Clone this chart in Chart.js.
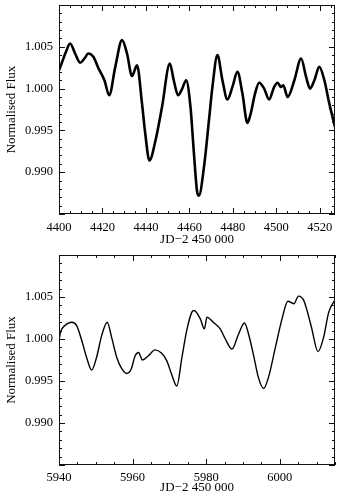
<!DOCTYPE html>
<html>
<head>
<meta charset="utf-8">
<script src="https://cdn.jsdelivr.net/npm/chart.js@4.4.0/dist/chart.umd.min.js"></script>
<style>
  html, body { margin: 0; padding: 0; background: #fff; }
  body { width: 338px; height: 496px; position: relative; overflow: hidden; }
  canvas { position: absolute; left: 0; }
  #c1 { top: 0; }
  #c2 { top: 248px; }
</style>
</head>
<body>
<canvas id="c1" width="338" height="248"></canvas>
<canvas id="c2" width="338" height="248"></canvas>
<script>
// ---- Data ----
const topTime = [4400, 4401.2, 4403.2, 4405.1, 4407.4, 4409.7, 4411.7, 4413.5, 4415.8, 4418.2,
  4420.9, 4423.1, 4425.9, 4429.0, 4431.3, 4433.6, 4435.9, 4438.2, 4439.7, 4441.6,
  4444.4, 4447.4, 4451.0, 4452.8, 4454.8, 4456.7, 4458.5, 4460.5, 4462.1, 4463.6,
  4464.4, 4466.7, 4469.0, 4470.6, 4472.9, 4475.2, 4477.5, 4479.8, 4482.1, 4484.4,
  4486.7, 4488.2, 4490.2, 4492.1, 4494.4, 4496.7, 4499.0, 4500.6, 4502.1, 4503.2,
  4505.2, 4508.3, 4511.4, 4513.7, 4515.5, 4517.5, 4519.8, 4522.1, 4524.4, 4527.0];
const topFlux = [1.0022, 1.0030, 1.0044, 1.0054, 1.0042, 1.0031, 1.0036, 1.0042, 1.0038, 1.0024,
  1.0010, 0.9992, 1.0026, 1.0058, 1.0042, 1.0015, 1.0028, 0.9982, 0.9946, 0.9914,
  0.9938, 0.9978, 1.0030, 1.0010, 0.9992, 1.0000, 1.0010, 0.9978, 0.9922, 0.9876,
  0.9872, 0.9906, 0.9962, 1.0002, 1.0040, 1.0010, 0.9987, 1.0002, 1.0020, 0.9994,
  0.9959, 0.9970, 0.9994, 1.0007, 1.0000, 0.9987, 1.0002, 1.0007, 1.0002, 1.0004,
  0.9990, 1.0010, 1.0036, 1.0014, 1.0000, 1.0010, 1.0026, 1.0010, 0.9982, 0.9954];

const bottomTime = [5940, 5940.4, 5941.6, 5943.5, 5944.8, 5946.2, 5947.5, 5948.9, 5950.2, 5951.6,
  5953.1, 5954.3, 5955.7, 5957.0, 5958.4, 5959.6, 5960.7, 5961.6, 5962.7, 5964.3,
  5966.1, 5967.9, 5969.3, 5970.6, 5972.0, 5973.4, 5974.7, 5976.1, 5976.7, 5978.4,
  5979.5, 5980.2, 5981.9, 5983.8, 5985.2, 5987.0, 5988.8, 5990.4, 5991.5, 5992.9,
  5994.2, 5995.6, 5996.9, 5998.8, 6000.6, 6002.2, 6003.8, 6005.1, 6006.5, 6007.4,
  6008.6, 6010.4, 6011.9, 6013.3, 6014.9];
const bottomFlux = [0.9998, 1.0008, 1.0016, 1.0020, 1.0016, 0.9998, 0.9978, 0.9963, 0.9978, 1.0004,
  1.0020, 1.0002, 0.9978, 0.9965, 0.9959, 0.9964, 0.9980, 0.9984, 0.9975, 0.9980,
  0.9987, 0.9983, 0.9974, 0.9958, 0.9944, 0.9978, 1.0010, 1.0032, 1.0034, 1.0024,
  1.0012, 1.0026, 1.0020, 1.0012, 1.0000, 0.9988, 1.0006, 1.0019, 1.0006, 0.9980,
  0.9954, 0.9941, 0.9954, 0.9990, 1.0024, 1.0045, 1.0042, 1.0051, 1.0046, 1.0034,
  1.0014, 0.9985, 1.0002, 1.0032, 1.0046];

const topXTicks = [4400, 4420, 4440, 4460, 4480, 4500, 4520];
const bottomXTicks = [5940, 5960, 5980, 6000];
const fluxTicks = [0.990, 0.995, 1.000, 1.005];

const xLabel = 'JD\u22122 450 000';
const yLabel = 'Normalised Flux';

// ---- Rendering ----
const TICK_FONT = { family: 'Liberation Serif', size: 12.5 };
const TITLE_FONT = { family: 'Liberation Serif', size: 13 };

const frameTicks = {
  id: 'frameTicks',
  afterDraw(chart, args, opts) {
    const { ctx, chartArea: a, scales: { x, y } } = chart;
    ctx.save();
    ctx.strokeStyle = '#111';
    ctx.lineWidth = 1;
    ctx.strokeRect(Math.round(a.left) + 0.5, Math.round(a.top) + 0.5,
      Math.round(a.right - a.left) - 1, Math.round(a.bottom - a.top) - 1);
    ctx.beginPath();
    const eps = 1e-6;
    const startX = Math.ceil((x.min - eps) / opts.xMinor) * opts.xMinor;
    for (let v = startX; v <= x.max + eps; v += opts.xMinor) {
      const r = v / opts.xMajor;
      const major = Math.abs(r - Math.round(r)) < 1e-6;
      const L = major ? 6 : 3;
      const px = Math.round(x.getPixelForValue(v)) + 0.5;
      ctx.moveTo(px, a.bottom); ctx.lineTo(px, a.bottom - L);
      ctx.moveTo(px, a.top); ctx.lineTo(px, a.top + L);
    }
    const startY = Math.ceil((y.min - eps) / opts.yMinor) * opts.yMinor;
    for (let v = startY; v <= y.max + eps; v += opts.yMinor) {
      const r = v / opts.yMajor;
      const major = Math.abs(r - Math.round(r)) < 1e-4;
      const L = major ? 6 : 3;
      const py = Math.round(y.getPixelForValue(v)) + 0.5;
      ctx.moveTo(a.left, py); ctx.lineTo(a.left + L, py);
      ctx.moveTo(a.right, py); ctx.lineTo(a.right - L, py);
    }
    ctx.stroke();
    ctx.restore();
  }
};

function makeChart(id, times, flux, xmin, xmax, xTicks, lw, padTop, xAxisHeight, xTickPad) {
  const pts = times.map((t, i) => ({ x: t, y: flux[i] }));
  return new Chart(document.getElementById(id), {
    type: 'line',
    data: {
      datasets: [{
        data: pts,
        borderColor: '#000',
        borderWidth: lw,
        pointRadius: 0,
        cubicInterpolationMode: 'monotone',
        fill: false
      }]
    },
    options: {
      responsive: false,
      animation: false,
      devicePixelRatio: 1,
      layout: { padding: { top: padTop, right: 3, left: 0, bottom: 0 } },
      plugins: {
        legend: { display: false },
        tooltip: { enabled: false },
        frameTicks: { xMinor: 5, xMajor: 20, yMinor: 0.001, yMajor: 0.005 }
      },
      scales: {
        x: {
          type: 'linear', min: xmin, max: xmax,
          afterBuildTicks: s => { s.ticks = xTicks.map(v => ({ value: v })); },
          afterFit: s => { s.height = xAxisHeight; s.paddingLeft = 0; s.paddingRight = 0; },
          grid: { display: false, drawTicks: false },
          border: { display: false },
          ticks: { font: TICK_FONT, color: '#000', padding: xTickPad, maxRotation: 0, autoSkip: false,
                   callback: v => String(v) },
          title: { display: true, text: xLabel, font: TITLE_FONT, color: '#000', padding: { top: 0, bottom: 1 } }
        },
        y: {
          type: 'linear', min: 0.985, max: 1.010,
          afterBuildTicks: s => { s.ticks = fluxTicks.map(v => ({ value: v })); },
          afterFit: s => { s.width = 59; s.paddingTop = 0; s.paddingBottom = 0; },
          grid: { display: false, drawTicks: false },
          border: { display: false },
          ticks: { font: TICK_FONT, color: '#000', padding: 6, callback: v => Number(v).toFixed(3) },
          title: { display: true, text: yLabel, font: TITLE_FONT, color: '#000', padding: { top: 4, bottom: 0 } }
        }
      }
    },
    plugins: [frameTicks]
  });
}

makeChart('c1', topTime, topFlux, 4400, 4527, topXTicks, 2.6, 5, 34, 6);
makeChart('c2', bottomTime, bottomFlux, 5940, 6015, bottomXTicks, 1.4, 7, 31, 5);
</script>
</body>
</html>
